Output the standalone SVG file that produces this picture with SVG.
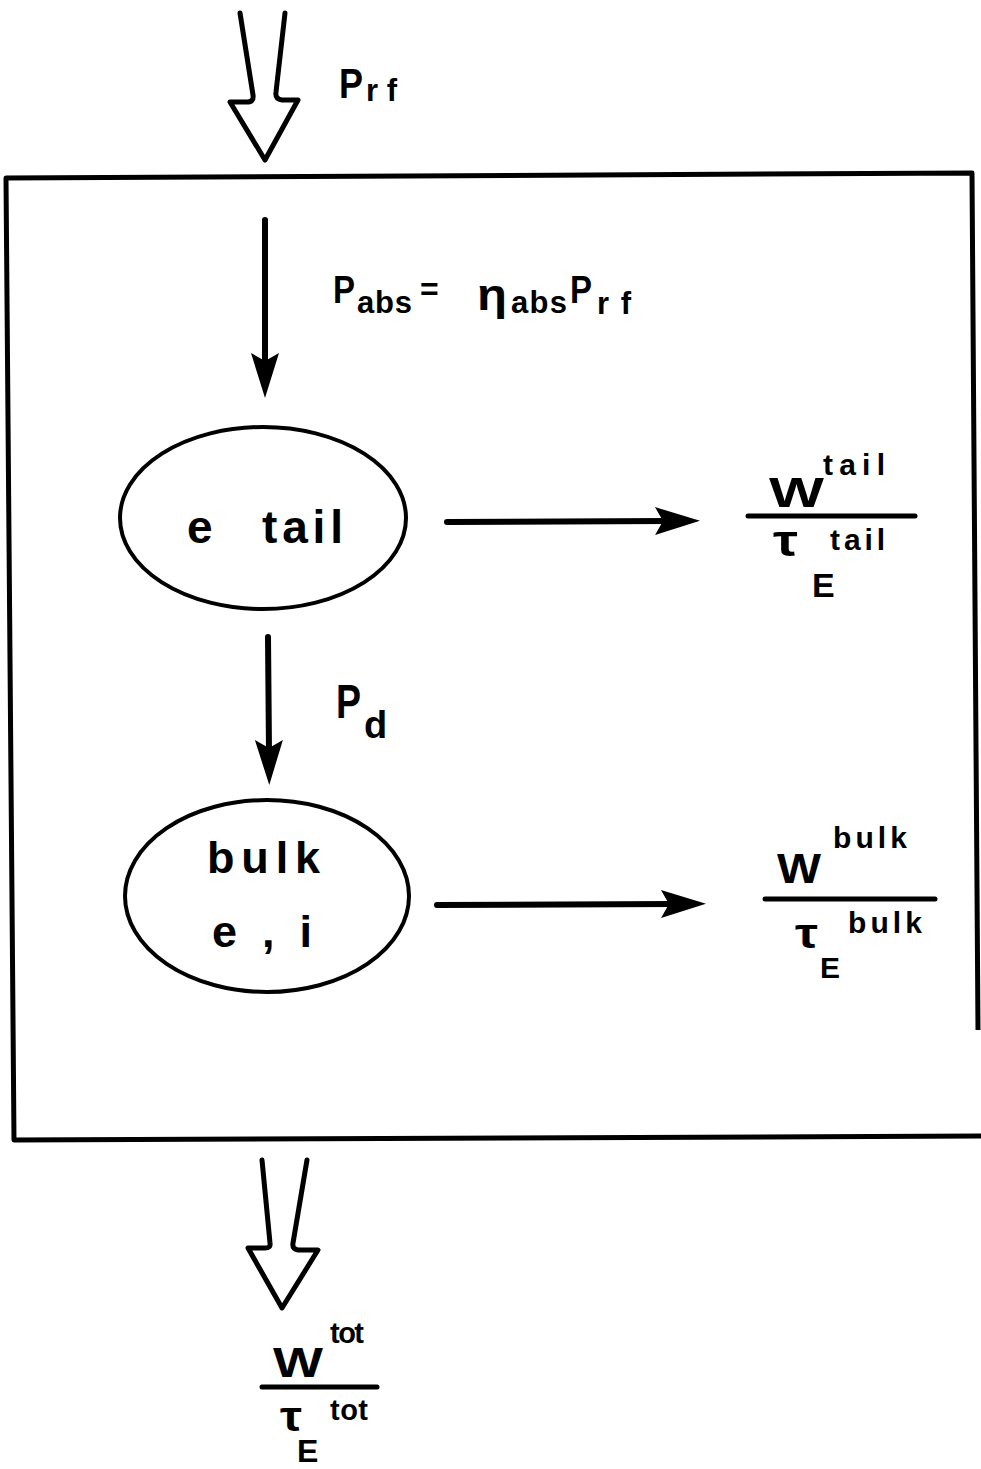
<svg xmlns="http://www.w3.org/2000/svg" width="981" height="1469" viewBox="0 0 981 1469">
<defs>
<style>
.t{font-family:"Liberation Sans",Arial,sans-serif;font-weight:bold;fill:#000}
.ln{stroke:#000;stroke-width:6;fill:none;stroke-linecap:round}
.bar{stroke:#000;stroke-width:5;stroke-linecap:round}
.hollow{stroke:#000;stroke-width:5;fill:#fff;stroke-linejoin:round;stroke-linecap:round}
.node{stroke:#000;stroke-width:4;fill:#fff}
</style>
<marker id="ah" viewBox="-2 -16 50 32" refX="12" refY="0" markerWidth="50" markerHeight="32" markerUnits="userSpaceOnUse" orient="auto">
<path d="M45,0 L0,-14 L8,0 L0,14 Z" fill="#000"/>
</marker>
</defs>
<rect width="981" height="1469" fill="#fff"/>

<g id="boundary">
<path d="M981,1136 L14,1140 L6,178 L972,173 L978,1030" fill="none" stroke="#000" stroke-width="5" stroke-linejoin="round"/>
</g>

<g id="input-arrow">
<path class="hollow" d="M240,13 L253,95 Q254,102 247,102 L230,102 L265,160 L298,100 L282,100 Q275,99 276,92 L285,13"/>
<text class="t" x="339" y="98" font-size="42" textLength="24" lengthAdjust="spacingAndGlyphs">P</text>
<text class="t" x="366" y="101" font-size="31" textLength="31" lengthAdjust="spacing">rf</text>
</g>

<g id="output-arrow">
<path class="hollow" d="M262,1160 L270,1243 Q271,1248 265,1248 L248,1248 L282,1308 L318,1250 L298,1250 Q292,1249 293,1243 L307,1160"/>
<text class="t" x="273" y="1377" font-size="42" textLength="50" lengthAdjust="spacingAndGlyphs">W</text>
<text class="t" x="330" y="1343" font-size="29" textLength="34" lengthAdjust="spacing">tot</text>
<line class="bar" x1="262" y1="1387" x2="377" y2="1387"/>
<text class="t" x="280" y="1431" font-size="42" textLength="22" lengthAdjust="spacingAndGlyphs">τ</text>
<text class="t" x="330" y="1420" font-size="29" textLength="38" lengthAdjust="spacing">tot</text>
<text class="t" x="297" y="1462" font-size="32">E</text>
</g>

<g id="e-tail">
<ellipse class="node" cx="263" cy="518" rx="143" ry="91"/>
<text class="t" x="187" y="543" font-size="46">e</text>
<text class="t" x="262" y="543" font-size="46" textLength="81" lengthAdjust="spacing">tail</text>
</g>

<g id="bulk">
<ellipse class="node" cx="267" cy="896" rx="142" ry="96"/>
<text class="t" x="207" y="873" font-size="45" textLength="113" lengthAdjust="spacing">bulk</text>
<text class="t" x="212" y="947" font-size="45" textLength="100" lengthAdjust="spacing">e , i</text>
</g>

<g id="tail-loss">
<text class="t" x="769" y="507" font-size="42" textLength="55" lengthAdjust="spacingAndGlyphs">W</text>
<text class="t" x="823" y="475" font-size="30" textLength="62" lengthAdjust="spacing">tail</text>
<line class="bar" x1="748" y1="516" x2="915" y2="516"/>
<text class="t" x="773" y="556" font-size="44" textLength="25" lengthAdjust="spacingAndGlyphs">τ</text>
<text class="t" x="830" y="550" font-size="30" textLength="55" lengthAdjust="spacing">tail</text>
<text class="t" x="812" y="597" font-size="34">E</text>
</g>

<g id="bulk-loss">
<text class="t" x="777" y="883" font-size="42" textLength="44" lengthAdjust="spacingAndGlyphs">W</text>
<text class="t" x="833" y="848" font-size="30" textLength="74" lengthAdjust="spacing">bulk</text>
<line class="bar" x1="765" y1="899" x2="935" y2="899"/>
<text class="t" x="795" y="948" font-size="42" textLength="23" lengthAdjust="spacingAndGlyphs">τ</text>
<text class="t" x="848" y="933" font-size="30" textLength="74" lengthAdjust="spacing">bulk</text>
<text class="t" x="820" y="978" font-size="30">E</text>
</g>

<g id="connectors">
<line class="ln" x1="265" y1="220" x2="265" y2="365" marker-end="url(#ah)"/>
<line class="ln" x1="268" y1="637" x2="269" y2="752" marker-end="url(#ah)"/>
<line class="ln" x1="447" y1="522" x2="667" y2="521" marker-end="url(#ah)"/>
<line class="ln" x1="437" y1="905" x2="673" y2="904" marker-end="url(#ah)"/>
</g>

<g id="labels">
<text class="t" x="333" y="303" font-size="38" textLength="22" lengthAdjust="spacingAndGlyphs">P</text>
<text class="t" x="357" y="313" font-size="31" textLength="55" lengthAdjust="spacing">abs</text>
<text class="t" x="420" y="300" font-size="32">=</text>
<text class="t" x="477" y="310" font-size="44" textLength="30" lengthAdjust="spacingAndGlyphs">η</text>
<text class="t" x="511" y="313" font-size="31" textLength="56" lengthAdjust="spacing">abs</text>
<text class="t" x="570" y="303" font-size="38" textLength="22" lengthAdjust="spacingAndGlyphs">P</text>
<text class="t" x="597" y="314" font-size="31" textLength="34" lengthAdjust="spacing">rf</text>
<text class="t" x="336" y="718" font-size="48" textLength="25" lengthAdjust="spacingAndGlyphs">P</text>
<text class="t" x="364" y="738" font-size="38">d</text>
</g>
</svg>
